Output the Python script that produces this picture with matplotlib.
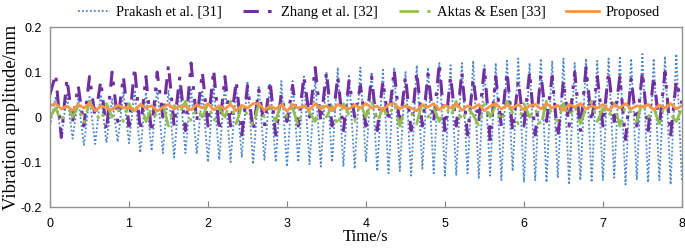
import numpy as np
import matplotlib
matplotlib.use("Agg")
import matplotlib.pyplot as plt

# ---- data ----
sample_rate = 14  # samples per second
prakash = [-0.02,
    0.045, -0.047, 0.05, -0.048, 0.04, -0.062, 0.045, -0.06, 0.05, -0.057, 0.04, -0.055, 0.055, -0.058,
    0.06, -0.079, 0.055, -0.075, 0.065, -0.08, 0.06, -0.09, 0.07, -0.08, 0.065, -0.082, 0.06, -0.10,
    0.07, -0.095, 0.075, -0.10, 0.065, -0.09, 0.08, -0.105, 0.07, -0.095, 0.075, -0.10, 0.08, -0.11,
    0.08, -0.10, 0.09, -0.105, 0.085, -0.11, 0.10, -0.10, 0.11, -0.11, 0.095, -0.115, 0.11, -0.10,
    0.10, -0.12, 0.105, -0.125, 0.11, -0.12, 0.10, -0.13, 0.115, -0.115, 0.11, -0.125, 0.12, -0.13,
    0.115, -0.13, 0.12, -0.125, 0.125, -0.135, 0.115, -0.13, 0.12, -0.14, 0.125, -0.12, 0.13, -0.145,
    0.12, -0.14, 0.13, -0.145, 0.125, -0.135, 0.13, -0.15, 0.12, -0.14, 0.13, -0.145, 0.125, -0.14,
    0.13, -0.135, 0.135, -0.15, 0.13, -0.14, 0.14, -0.145, 0.13, -0.14, 0.135, -0.15, 0.14, -0.14]
zhang = [
    0.05, 0.095, -0.045, 0.085, -0.01, 0.07, -0.02, 0.09, 0.0, 0.08, -0.03, 0.10, -0.01, 0.09,
    -0.02, 0.11, -0.03, 0.09, -0.035, 0.10, 0.0, 0.115, -0.02, 0.09, -0.03, 0.12, -0.01, 0.10,
    -0.02, 0.105, -0.03, 0.09, -0.02, 0.08, -0.04, 0.07, -0.03, 0.06, -0.02, 0.08, -0.04, 0.05,
    -0.01, 0.07, -0.02, 0.09, 0.0, 0.11, -0.01, 0.10, -0.02, 0.09, -0.03, 0.08, 0.0, 0.07,
    -0.02, 0.09, -0.03, 0.08, -0.01, 0.105, -0.02, 0.09, -0.03, 0.10, -0.02, 0.095, -0.01, 0.12,
    -0.03, 0.09, -0.02, 0.10, -0.04, 0.085, -0.01, 0.11, -0.05, 0.09, -0.02, 0.10, -0.03, 0.08,
    -0.02, 0.10, -0.04, 0.095, -0.01, 0.09, -0.045, 0.08, -0.02, 0.10, -0.03, 0.11, -0.01, 0.09,
    -0.02, 0.10, -0.01, 0.09, -0.05, 0.085, -0.02, 0.10, -0.03, 0.09, -0.02, 0.10, -0.04, 0.08, 0.03]
aktas = [
    0.0, 0.02, -0.01, 0.03, 0.0, 0.025, -0.015, 0.035, 0.01, -0.01, 0.03, 0.0, 0.02, -0.01,
    0.03, 0.005, 0.035, -0.01, 0.02, 0.0, 0.03, -0.02, 0.025, 0.01, 0.035, -0.01, 0.02, 0.0,
    0.03, -0.01, 0.02, 0.0, 0.035, -0.015, 0.025, 0.005, -0.02, 0.03, 0.0, 0.02, -0.01, 0.035,
    0.0, 0.02, -0.02, 0.03, 0.01, -0.01, 0.035, 0.0, 0.025, -0.02, 0.03, 0.005, -0.01, 0.03,
    0.0, 0.035, -0.01, 0.02, 0.0, 0.03, -0.02, 0.025, 0.01, -0.015, 0.035, 0.0, 0.02, -0.01,
    0.03, 0.0, 0.035, -0.01, 0.02, 0.005, -0.02, 0.03, 0.0, 0.025, -0.01, 0.035, 0.01, -0.015,
    0.03, 0.0, 0.02, -0.02, 0.035, 0.005, -0.01, 0.03, 0.0, 0.025, -0.015, 0.02, 0.035, -0.01,
    0.02, 0.0, 0.03, -0.02, 0.025, 0.01, -0.01, 0.035, 0.0, 0.02, -0.015, 0.03, 0.005, -0.01, 0.02]
proposed = [
    0.025, 0.03, 0.018, 0.024, 0.015, 0.028, 0.02, 0.03, 0.014, 0.025, 0.02, 0.016, 0.027, 0.02,
    0.022, 0.015, 0.028, 0.02, 0.025, 0.013, 0.022, 0.028, 0.018, 0.024, 0.024, 0.016, 0.028, 0.02,
    0.03, 0.016, 0.025, 0.018, 0.028, 0.014, 0.026, 0.02, 0.03, 0.03, 0.015, 0.025, 0.018, 0.027,
    0.013, 0.028, 0.02, 0.025, 0.016, 0.03, 0.018, 0.025, 0.014, 0.028, 0.022, 0.018, 0.027, 0.02,
    0.03, 0.02, 0.024, 0.015, 0.028, 0.03, 0.018, 0.025, 0.02, 0.014, 0.028, 0.022, 0.03, 0.016,
    0.026, 0.02, 0.03, 0.015, 0.025, 0.02, 0.028, 0.014, 0.024, 0.03, 0.018, 0.026, 0.02, 0.028,
    0.016, 0.025, 0.028, 0.018, 0.03, 0.02, 0.026, 0.015, 0.028, 0.022, 0.03, 0.018, 0.025, 0.02,
    0.028, 0.015, 0.026, 0.02, 0.03, 0.018, 0.025, 0.022, 0.028, 0.016, 0.027, 0.02, 0.03, 0.018, 0.025]
labels = ["Prakash et al. [31]", "Zhang et al. [32]", "Aktas & Esen [33]", "Proposed"]
x_ticks = [0, 1, 2, 3, 4, 5, 6, 7, 8]
y_ticks = [-0.2, -0.1, 0, 0.1, 0.2]
y_ticklabels = ["-0.2", "-0.1", "0", "0.1", "0.2"]

t = np.arange(len(prakash)) / sample_rate

fig = plt.figure(figsize=(6.85, 2.48), dpi=100)
ax = fig.add_axes([0.073, 0.165, 0.9225, 0.726])

ax.plot(t, prakash, color="#4A86CC", lw=1.3, ls=(0, (1, 1.2)), label=labels[0])
ax.plot(t, zhang, color="#7030A0", lw=2.2, ls=(0, (5, 3, 1.2, 3)), label=labels[1])
ax.plot(t, aktas, color="#92C050", lw=2.0, ls=(0, (7, 3, 1.2, 3, 1.2, 3)), label=labels[2])
ax.plot(t, proposed, color="#F79646", lw=2.0, ls="-", label=labels[3])

ax.set_xlim(0, 8)
ax.set_ylim(-0.2, 0.2)
ax.set_xticks(x_ticks)
ax.set_yticks(y_ticks)
ax.set_yticklabels(y_ticklabels)
ax.tick_params(axis="x", direction="in", length=4, color="#808080",
               labelsize=9, pad=8)
ax.tick_params(axis="y", length=0, labelsize=9, pad=6)
for lab in ax.get_xticklabels() + ax.get_yticklabels():
    lab.set_fontfamily("Liberation Sans")
for s in ax.spines.values():
    s.set_color("#909090")
    s.set_linewidth(1.0)

ax.set_xlabel("Time/s", fontfamily="Liberation Serif", fontsize=12, labelpad=-1)
ax.set_ylabel("Vibration amplitude/mm", fontfamily="Liberation Serif", fontsize=13.5, labelpad=0)

leg = fig.legend(loc="upper center", bbox_to_anchor=(0.538, 1.03), ncol=4, frameon=False,
                 prop={"family": "Liberation Serif", "size": 10.5},
                 handlelength=2.2, columnspacing=1.4, handletextpad=0.45)

fig.savefig("out.png", dpi=100)
